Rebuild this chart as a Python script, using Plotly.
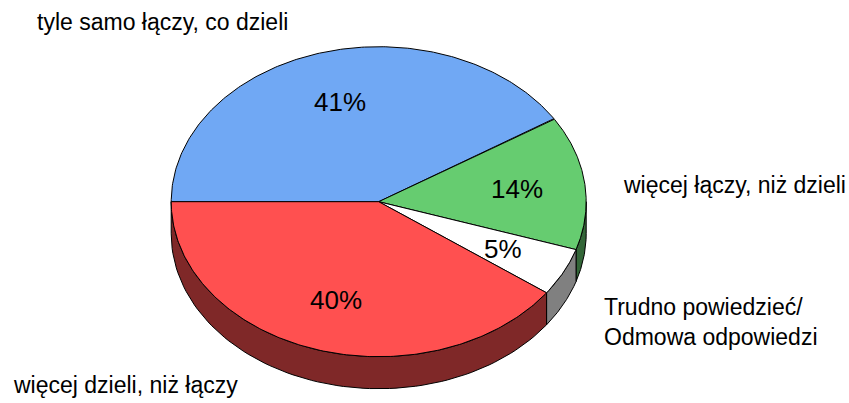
import numpy as np
import plotly.graph_objects as go

categories = ["tyle samo łączy, co dzieli", "więcej łączy, niż dzieli",
              "Trudno powiedzieć/<br>Odmowa odpowiedzi", "więcej dzieli, niż łączy"]
values = [41, 14, 5, 40]
top_colors = ["#70A8F4", "#66CC70", "#FFFFFF", "#FF5050"]
side_colors = ["#38547A", "#336638", "#808080", "#7F2828"]

# geometry (pixel space)
W, H = 849, 403
cx, cy, rx, ry, depth = 378.7, 201.7, 207.5, 155.0, 32.0
start = 180.0  # degrees, going clockwise

def pt(a_deg, dy=0.0, f=1.0):
    a = np.radians(a_deg)
    return cx + f * rx * np.cos(a), cy - f * ry * np.sin(a) + dy

total = sum(values)
angles = []
a = start
for v in values:
    span = 360.0 * v / total
    angles.append((a, a - span))
    a -= span

fig = go.Figure()

# side walls (only front half: angles between -180 and 0)
for (a0, a1), col in zip(angles, side_colors):
    s_lo, s_hi = max(a1, -180.0), min(a0, 0.0)
    if s_hi - s_lo <= 0:
        continue
    t = np.linspace(s_hi, s_lo, 80)
    xs_top, ys_top = pt(t)
    xs_bot, ys_bot = pt(t[::-1], dy=depth)
    xs = np.concatenate([xs_top, xs_bot, xs_top[:1]])
    ys = np.concatenate([ys_top, ys_bot, ys_top[:1]])
    fig.add_trace(go.Scatter(x=xs, y=ys, mode="lines", fill="toself",
                             fillcolor=col, line=dict(color="black", width=1),
                             hoverinfo="skip", showlegend=False))

# top faces
for (a0, a1), col in zip(angles, top_colors):
    t = np.linspace(a0, a1, 200)
    xs, ys = pt(t)
    xs = np.concatenate([[cx], xs, [cx]])
    ys = np.concatenate([[cy], ys, [cy]])
    fig.add_trace(go.Scatter(x=xs, y=ys, mode="lines", fill="toself",
                             fillcolor=col, line=dict(color="black", width=1),
                             hoverinfo="skip", showlegend=False))

# percentage labels
for (a0, a1), v in zip(angles, values):
    mx, my = pt((a0 + a1) / 2.0, f=0.67)
    fig.add_annotation(x=float(mx), y=float(my), text=f"{v}%", showarrow=False,
                       font=dict(size=26, color="black"),
                       xanchor="center", yanchor="middle")

# category labels
label_pos = [(35, 22), (621, 185), (602, 322), (11, 385)]
for txt, (lx, ly) in zip(categories, label_pos):
    fig.add_annotation(x=lx, y=ly, text=txt, showarrow=False, align="left",
                       font=dict(size=23, color="black"),
                       xanchor="left", yanchor="middle")

fig.update_layout(
    width=W, height=H, margin=dict(l=0, r=0, t=0, b=0),
    paper_bgcolor="white", plot_bgcolor="white",
    font=dict(family="Liberation Sans, Arial, sans-serif"),
    xaxis=dict(range=[0, W], visible=False, fixedrange=True),
    yaxis=dict(range=[H, 0], visible=False, fixedrange=True),
)

fig.write_html("out.html", config={"displayModeBar": False},
               post_script="document.body.style.margin='0';document.body.style.overflow='hidden';")
